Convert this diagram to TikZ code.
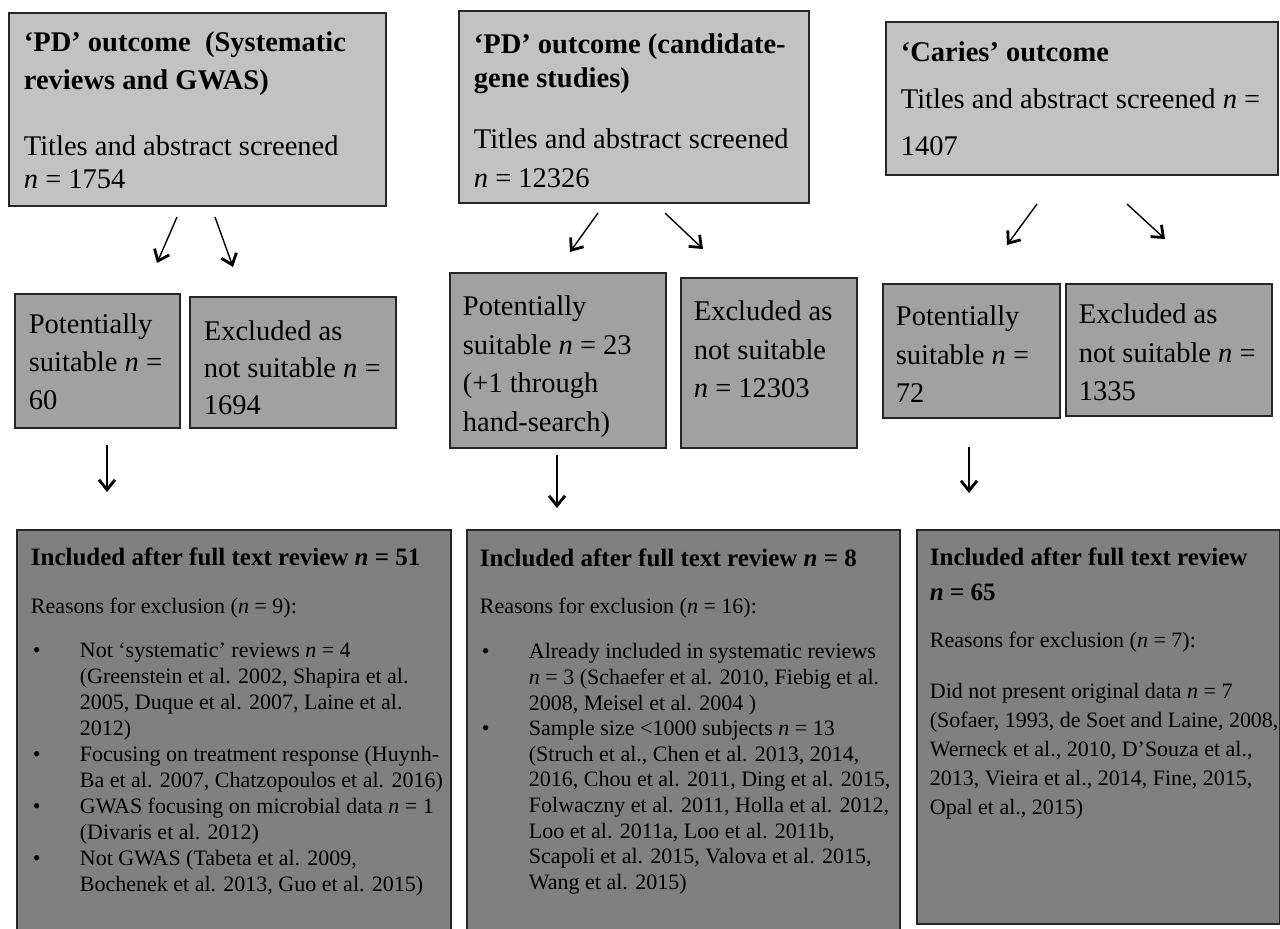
\documentclass[tikz,border=0pt]{standalone}
\usepackage{fontspec}
\setmainfont{Liberation Serif}
\usetikzlibrary{arrows.meta}

\definecolor{screengray}{gray}{0.76}
\definecolor{sortgray}{gray}{0.63}
\definecolor{inclgray}{gray}{0.50}

\newdimen\pxu \pxu=0.5pt
% 方框内容：宽, 高, 左边距, 首行基线, 内容
\newcommand{\boxtext}[5]{%
  \begin{minipage}[t][#2\pxu][t]{#1\pxu}%
    \leftskip=#3\pxu \rightskip=-10pt plus 1fil \parindent=0pt
    \rule{0pt}{#4\pxu}#5%
  \end{minipage}}
\newcommand{\bul}{\makebox[49\pxu][l]{\hspace{2\pxu}\textbullet}}
\newcommand{\bulind}{\hspace*{49\pxu}}

\begin{document}
\begin{tikzpicture}[x=0.5pt, y=-0.5pt,
  screenbox/.style={draw=black!85, line width=0.9pt, fill=screengray,
    inner sep=0pt, anchor=north west},
  sortbox/.style={screenbox, fill=sortgray},
  inclbox/.style={screenbox, fill=inclgray},
  flow/.style={line width=0.7pt,
    -{Straight Barb[length=5pt, width=8pt, line width=1.4pt]}}]
  \useasboundingbox (0,0) rectangle (1280,928);
  % 检索
  \node[screenbox] (pdrev) at (8,12) {\boxtext{377}{193}{15}{39}{%
    \fontsize{14.25pt}{16.5pt}\selectfont
    \textbf{‘PD’ outcome\ \ (Systematic}\\[2.5pt]
    \textbf{reviews and GWAS)}\\[16.5pt]
    Titles and abstract screened\\
    \textit{n} = 1754}};
  \node[screenbox] (pdgene) at (458,10) {\boxtext{350}{192}{15}{43}{%
    \fontsize{14.25pt}{16.5pt}\selectfont
    \textbf{‘PD’ outcome (candidate-}\\[0.5pt]
    \textbf{gene studies)}\\[14pt]
    Titles and abstract screened\\[3pt]
    \textit{n} = 12326}};
  \node[screenbox] (caries) at (885,21) {\boxtext{392}{153}{15}{40}{%
    \fontsize{14.25pt}{23.5pt}\selectfont
    \textbf{‘Caries’ outcome}\\
    Titles and abstract screened \textit{n} =\\
    1407}};
  % 筛选
  \node[sortbox] (pdrevok) at (14,293) {\boxtext{165}{134}{14}{40}{%
    \fontsize{14.25pt}{19pt}\selectfont
    Potentially\\ suitable \textit{n} =\\ 60}};
  \node[sortbox] (pdrevout) at (189,296) {\boxtext{206}{131}{14}{44}{%
    \fontsize{14.25pt}{18.5pt}\selectfont
    Excluded as\\ not suitable \textit{n} =\\ 1694}};
  \node[sortbox] (pdgeneok) at (449,272) {\boxtext{216}{175}{13}{43}{%
    \fontsize{14.25pt}{19.25pt}\selectfont
    Potentially\\ suitable \textit{n} = 23\\ (+1 through\\ hand-search)}};
  \node[sortbox] (pdgeneout) at (680,277) {\boxtext{176}{170}{13}{43}{%
    \fontsize{14.25pt}{19.25pt}\selectfont
    Excluded as\\ not suitable\\ \textit{n} = 12303}};
  \node[sortbox] (cariesok) at (882,283) {\boxtext{177}{134}{13}{42}{%
    \fontsize{14.25pt}{19.25pt}\selectfont
    Potentially\\ suitable \textit{n} =\\ 72}};
  \node[sortbox] (cariesout) at (1065,283) {\boxtext{206}{132}{13}{40}{%
    \fontsize{14.25pt}{19.25pt}\selectfont
    Excluded as\\ not suitable \textit{n} =\\ 1335}};
  % 纳入
  \node[inclbox] (pdrevin) at (16,529) {\boxtext{434}{430}{14}{36}{%
    \fontsize{11pt}{13pt}\selectfont
    {\fontsize{12.5pt}{13pt}\selectfont\bfseries
      Included after full text review \textit{n} = 51}\\[11pt]
    Reasons for exclusion (\textit{n} = 9):\\[9pt]
    \bul Not ‘systematic’ reviews \textit{n} = 4\\
    \bulind (Greenstein et al. 2002, Shapira et al.\\
    \bulind 2005, Duque et al. 2007, Laine et al.\\
    \bulind 2012)\\
    \bul Focusing on treatment response (Huynh-\\
    \bulind Ba et al. 2007, Chatzopoulos et al. 2016)\\
    \bul GWAS focusing on microbial data \textit{n} = 1\\
    \bulind (Divaris et al. 2012)\\
    \bul Not GWAS (Tabeta et al. 2009,\\
    \bulind Bochenek et al. 2013, Guo et al. 2015)}};
  \node[inclbox] (pdgenein) at (466,529) {\boxtext{433}{430}{13}{37}{%
    \fontsize{11pt}{12.8pt}\selectfont
    {\fontsize{12.5pt}{13pt}\selectfont\bfseries
      Included after full text review \textit{n} = 8}\\[10.7pt]
    Reasons for exclusion (\textit{n} = 16):\\[9.7pt]
    \bul Already included in systematic reviews\\
    \bulind \textit{n} = 3 (Schaefer et al. 2010, Fiebig et al.\\
    \bulind 2008, Meisel et al. 2004 )\\
    \bul Sample size <1000 subjects \textit{n} = 13\\
    \bulind (Struch et al., Chen et al. 2013, 2014,\\
    \bulind 2016, Chou et al. 2011, Ding et al. 2015,\\
    \bulind Folwaczny et al. 2011, Holla et al. 2012,\\
    \bulind Loo et al. 2011a, Loo et al. 2011b,\\
    \bulind Scapoli et al. 2015, Valova et al. 2015,\\
    \bulind Wang et al. 2015)}};
  \node[inclbox] (cariesin) at (916,529) {\boxtext{363}{394}{13}{36}{%
    \fontsize{11pt}{14.5pt}\selectfont
    {\fontsize{12.5pt}{13pt}\selectfont\bfseries
      Included after full text review}\\[3pt]
    {\fontsize{12.5pt}{13pt}\selectfont\bfseries \textit{n} = 65}\\[9pt]
    Reasons for exclusion (\textit{n} = 7):\\[11pt]
    Did not present original data \textit{n} = 7\\
    (Sofaer, 1993, de Soet and Laine, 2008,\\
    Werneck et al., 2010, D’Souza et al.,\\
    2013, Vieira et al., 2014, Fine, 2015,\\
    Opal et al., 2015)}};
  % 箭头
  \coordinate (pdrev-a) at (177,217);   \coordinate (pdrev-b) at (157,263);
  \coordinate (pdrev-c) at (215,217);   \coordinate (pdrev-d) at (233,267);
  \coordinate (pdgene-a) at (598,213);  \coordinate (pdgene-b) at (570,252);
  \coordinate (pdgene-c) at (665,213);  \coordinate (pdgene-d) at (703,249);
  \coordinate (caries-a) at (1037,204); \coordinate (caries-b) at (1007,245);
  \coordinate (caries-c) at (1127,204); \coordinate (caries-d) at (1165,239);
  \coordinate (pdrevok-a) at (107,445);  \coordinate (pdrevok-b) at (107,492);
  \coordinate (pdgeneok-a) at (557,455); \coordinate (pdgeneok-b) at (557,508);
  \coordinate (cariesok-a) at (969,447); \coordinate (cariesok-b) at (969,493);
  \draw[flow] (pdrev-a) -- (pdrev-b);
  \draw[flow] (pdrev-c) -- (pdrev-d);
  \draw[flow] (pdgene-a) -- (pdgene-b);
  \draw[flow] (pdgene-c) -- (pdgene-d);
  \draw[flow] (caries-a) -- (caries-b);
  \draw[flow] (caries-c) -- (caries-d);
  \draw[flow] (pdrevok-a) -- (pdrevok-b);
  \draw[flow] (pdgeneok-a) -- (pdgeneok-b);
  \draw[flow] (cariesok-a) -- (cariesok-b);
\end{tikzpicture}
\end{document}
